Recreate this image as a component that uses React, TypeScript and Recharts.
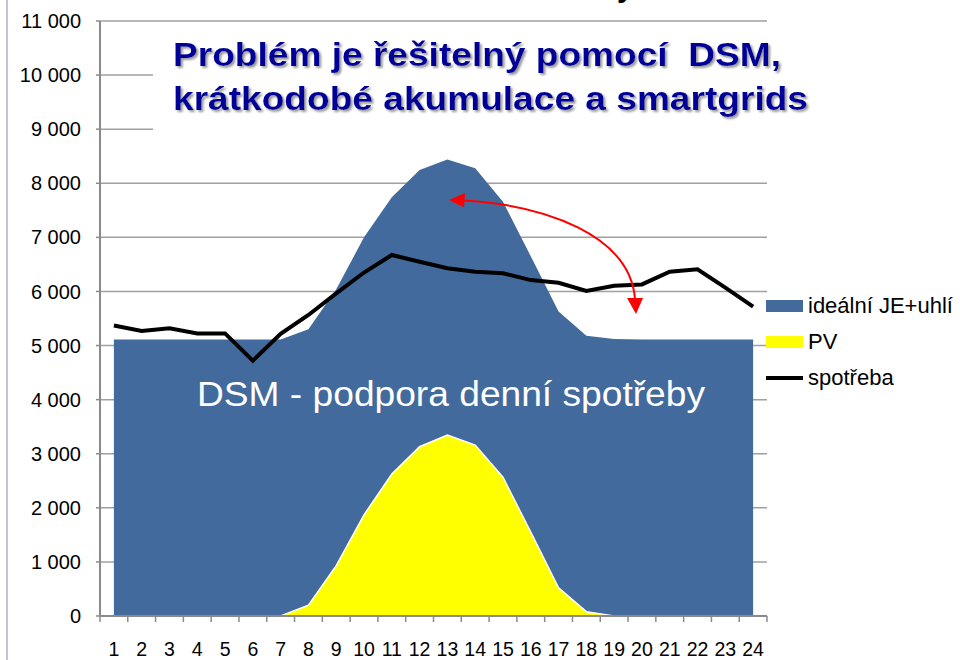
import { Area, CartesianGrid, ComposedChart, Legend, Line, XAxis, YAxis } from "recharts";

// hodiny dne
const hours = [1, 2, 3, 4, 5, 6, 7, 8, 9, 10, 11, 12, 13, 14, 15, 16, 17, 18, 19, 20, 21, 22, 23, 24];
// ideální JE+uhlí (horní hrana modré plochy)
const idealni = [5110, 5110, 5110, 5110, 5110, 5110, 5110, 5300, 6040, 7000, 7740, 8245, 8440, 8280, 7660, 6650, 5630, 5180, 5120, 5110, 5110, 5110, 5110, 5110];
// PV - null tam, kde nic nevyrábí
const pv = [null, null, null, null, null, null, 0, 200, 930, 1870, 2625, 3130, 3345, 3160, 2565, 1550, 520, 80, 0, null, null, null, null, null];
const spotreba = [5370, 5270, 5320, 5225, 5225, 4720, 5215, 5565, 5965, 6350, 6675, 6550, 6430, 6365, 6335, 6210, 6160, 6010, 6105, 6130, 6365, 6410, 6070, 5720];
const yTicks = [0, 1000, 2000, 3000, 4000, 5000, 6000, 7000, 8000, 9000, 10000, 11000];

const FONT = '"Liberation Sans", Arial, sans-serif';
const W = 960;
const H = 660;
const Y_AXIS_W = 100;
const RIGHT = 193;
const PLOT_W = W - Y_AXIS_W - RIGHT;
const HALF_BAND = PLOT_W / hours.length / 2;

const data = hours.map((h, i) => ({ h, ide: idealni[i], pv: pv[i], spot: spotreba[i] }));
// tick marks sit between the hours
const xBounds = [hours[0] - 0.5, ...hours.map((h) => h + 0.5)];

const seriesOrder = ["ide", "pv", "spot"];
const colors: Record<string, string> = { ide: "#426A9C", pv: "#FFFF00", spot: "#000000" };

const fmt = (v: number) => (v === 0 ? "0" : `${Math.round(v / 1000)} 000`);

const renderXTick = (props: any) => {
  const { x, y, payload } = props;
  if (payload.value > hours[hours.length - 1]) return <g />;
  return (
    <text x={x + HALF_BAND} y={y} dy={32} textAnchor="middle" fill="#000" fontSize={19.5} fontFamily={FONT}>
      {payload.value + 0.5}
    </text>
  );
};

const renderLegend = (props: any) => {
  const items = [...(props.payload || [])].sort(
    (a: any, b: any) => seriesOrder.indexOf(a.dataKey) - seriesOrder.indexOf(b.dataKey)
  );
  return (
    <div style={{ fontFamily: FONT, fontSize: 22, color: "#000" }}>
      {items.map((entry: any) => {
        const key = entry.dataKey as string;
        const isLine = key === "spot";
        return (
          <div key={key} style={{ display: "flex", alignItems: "center", height: 36 }}>
            <div style={{ width: 37, display: "flex", alignItems: "center" }}>
              <div style={{ width: 37, height: isLine ? 4 : 12, background: colors[key] }} />
            </div>
            <span style={{ marginLeft: 5, whiteSpace: "pre" }}>{entry.value}</span>
          </div>
        );
      })}
    </div>
  );
};

export default function App() {
  return (
    <div style={{ position: "absolute", left: 0, top: 0, width: W, height: H, background: "#fff", overflow: "hidden" }}>
      <ComposedChart width={W} height={H} data={data} margin={{ top: 21, right: RIGHT, bottom: 0, left: 0 }}>
        <CartesianGrid vertical={false} stroke="#a0a0a0" strokeWidth={1.5} />
        <XAxis
          dataKey="h"
          type="number"
          domain={[0.5, 24.5]}
          ticks={xBounds}
          interval={0}
          height={44}
          tickSize={6}
          axisLine={{ stroke: "#8a8a8a", strokeWidth: 2 }}
          tickLine={{ stroke: "#8a8a8a", strokeWidth: 1.5 }}
          tick={renderXTick}
        />
        <YAxis
          type="number"
          domain={[0, 11000]}
          ticks={yTicks}
          interval={0}
          width={Y_AXIS_W}
          tickSize={4}
          tickMargin={15}
          tickFormatter={fmt}
          axisLine={{ stroke: "#8a8a8a", strokeWidth: 2 }}
          tickLine={{ stroke: "#8a8a8a", strokeWidth: 1.5 }}
          tick={{ fill: "#000", fontSize: 20, fontFamily: FONT }}
        />
        <Area
          dataKey="ide"
          name="ideální JE+uhlí"
          type="linear"
          fill={colors.ide}
          fillOpacity={1}
          stroke="none"
          legendType="rect"
          isAnimationActive={false}
        />
        <Area
          dataKey="pv"
          name="PV"
          type="linear"
          fill={colors.pv}
          fillOpacity={1}
          stroke="#ffffff"
          strokeWidth={1.5}
          legendType="rect"
          isAnimationActive={false}
        />
        <Line
          dataKey="spot"
          name="spotřeba"
          type="linear"
          stroke={colors.spot}
          strokeWidth={4}
          dot={false}
          activeDot={false}
          legendType="line"
          isAnimationActive={false}
        />
        <Legend
          layout="vertical"
          align="center"
          verticalAlign="middle"
          wrapperStyle={{ left: 766, top: 288, width: 194 }}
          content={renderLegend}
        />
      </ComposedChart>

      <svg width={W} height={H} style={{ position: "absolute", left: 0, top: 0, pointerEvents: "none" }}>
        <defs>
          <filter id="titleShadow" x="-5%" y="-20%" width="110%" height="150%">
            <feDropShadow dx={2} dy={2} stdDeviation={0.8} floodColor="#9a9a9a" floodOpacity={1} />
          </filter>
        </defs>
        <line x1={7} y1={0} x2={7} y2={H} stroke="#c4c4d4" strokeWidth={2} />
        <text x={617} y={-3} fontSize={30} fontWeight="bold" fontFamily={FONT} fill="#000">y</text>

        <rect x={153} y={30} width={620} height={107} fill="#fff" />
        <g fontFamily={FONT} fontWeight="bold" fontSize={34} fill="#000099" filter="url(#titleShadow)">
          <text x={173} y={66} textLength={608} lengthAdjust="spacingAndGlyphs">
            {"Problém je řešitelný pomocí\u00A0 DSM,"}
          </text>
          <text x={173} y={110} textLength={635} lengthAdjust="spacingAndGlyphs">
            krátkodobé akumulace a smartgrids
          </text>
        </g>

        <text x={197} y={406} fill="#fff" fontFamily={FONT} fontSize={35} textLength={508} lengthAdjust="spacingAndGlyphs">
          DSM - podpora denní spotřeby
        </text>

        <path d="M463,200.5 C545,205 630,235 635,299" fill="none" stroke="#ff0000" strokeWidth={2} />
        <polygon points="449,200 465,193 464,207.5" fill="#ff0000" />
        <polygon points="636,314 627,298 643,298" fill="#ff0000" />
      </svg>
    </div>
  );
}
